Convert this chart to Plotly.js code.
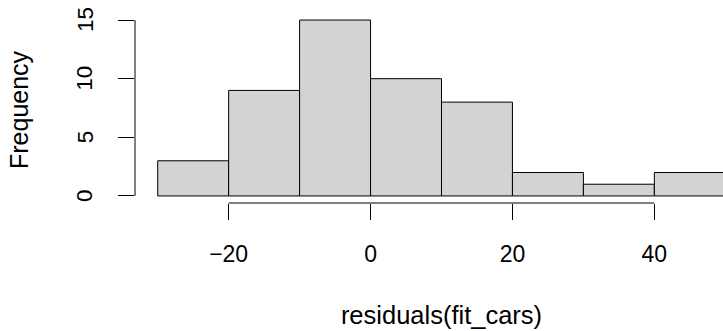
<!DOCTYPE html>
<html>
<head>
<meta charset="utf-8">
<script src="https://cdn.plot.ly/plotly-3.0.1.min.js"></script>
<style>
  html, body { margin: 0; padding: 0; overflow: hidden; background: #fff; }
  #chart { width: 749px; height: 331px; }
</style>
</head>
<body>
<div id="chart"></div>
<script>
// Histogram of residuals(fit_cars): bin edges and counts
const binEdges = [-30, -20, -10, 0, 10, 20, 30, 40, 50];
const counts = [3, 9, 15, 10, 8, 2, 1, 2];
const xTickVals = [-20, 0, 20, 40];
const xTickText = ["\u221220", "0", "20", "40"];
const yTickVals = [0, 5, 10, 15];
const yTickText = ["0", "5", "10", "15"];
const xTitle = "residuals(fit_cars)";
const yTitle = "Frequency";

const centers = [];
const widths = [];
for (let i = 0; i < counts.length; i++) {
  centers.push((binEdges[i] + binEdges[i + 1]) / 2);
  widths.push(binEdges[i + 1] - binEdges[i]);
}

// R-style extended ranges (4% padding)
const xmin = binEdges[0], xmax = binEdges[binEdges.length - 1];
const ymax = Math.max(...counts);
const xpad = (xmax - xmin) * 0.04, ypad = ymax * 0.04;

const font = "Liberation Sans, Arial, sans-serif";

const trace = {
  type: "bar",
  x: centers,
  y: counts,
  width: widths,
  marker: { color: "#d3d3d3", line: { color: "#000", width: 1 } },
  hoverinfo: "x+y"
};

// y tick labels rotated and centred on their ticks (R style)
const annotations = yTickVals.map((v, i) => ({
  xref: "paper", yref: "y", x: 0, y: v,
  text: yTickText[i], showarrow: false, textangle: -90,
  xanchor: "center", yanchor: "middle", xshift: -50,
  font: { size: 22.5, family: font, color: "#000" }
}));
// y axis title
annotations.push({
  xref: "paper", yref: "paper", x: 0, y: 0.5,
  text: yTitle, showarrow: false, textangle: -90,
  xanchor: "center", yanchor: "middle", xshift: -116, yshift: -2,
  font: { size: 25, family: font, color: "#000" }
});

const layout = {
  width: 749, height: 331,
  margin: { l: 135, r: 1, t: 13, b: 128 },
  paper_bgcolor: "#fff", plot_bgcolor: "#fff",
  showlegend: false,
  bargap: 0,
  font: { family: font, color: "#000" },
  xaxis: {
    range: [xmin - xpad, xmax + xpad],
    tickvals: xTickVals, ticktext: xTickText,
    ticks: "outside", ticklen: 16, tickwidth: 1, tickcolor: "#000",
    showline: false, zeroline: false, showgrid: false,
    tickfont: { size: 23, family: font, color: "#000" },
    ticklabelstandoff: 14,
    title: { text: xTitle, font: { size: 25.5, family: font, color: "#000" }, standoff: 40 },
    fixedrange: true
  },
  yaxis: {
    range: [-ypad, ymax + ypad],
    tickvals: yTickVals, ticktext: yTickText,
    ticks: "outside", ticklen: 16, tickwidth: 1, tickcolor: "#000",
    showticklabels: false,
    showline: false, zeroline: false, showgrid: false,
    fixedrange: true
  },
  annotations: annotations,
  shapes: [
    { type: "line", xref: "x", yref: "paper",
      x0: Math.min(...xTickVals), x1: Math.max(...xTickVals), y0: 0, y1: 0,
      line: { color: "#000", width: 1 } },
    { type: "line", xref: "paper", yref: "y",
      x0: 0, x1: 0, y0: Math.min(...yTickVals), y1: Math.max(...yTickVals),
      line: { color: "#000", width: 1 } }
  ]
};

Plotly.newPlot("chart", [trace], layout, { displayModeBar: false, staticPlot: true });
</script>
</body>
</html>
